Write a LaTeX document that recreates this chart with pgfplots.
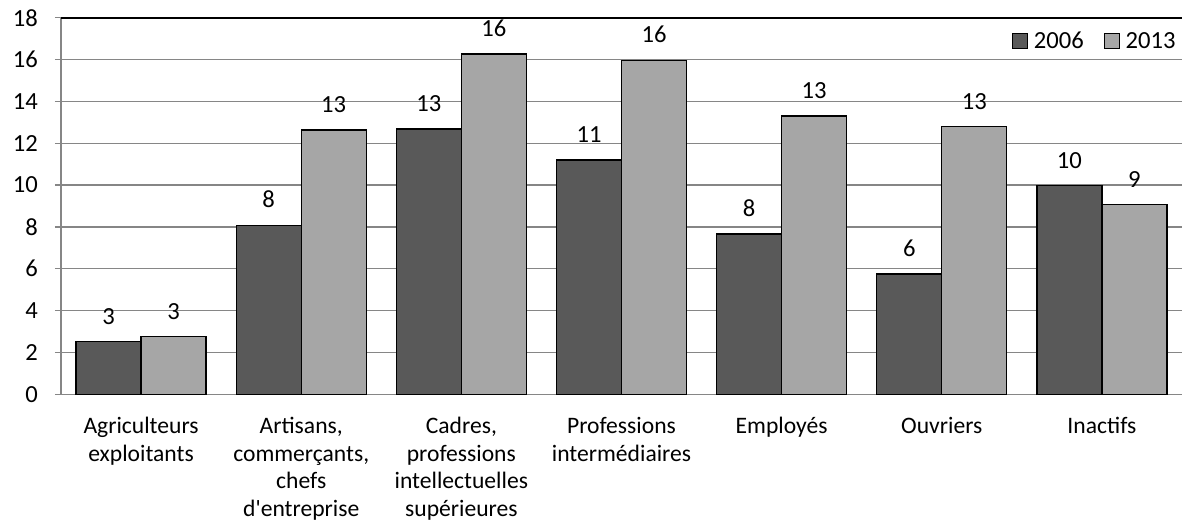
\documentclass[border=0pt]{standalone}
\usepackage{fontspec}
\setmainfont{Carlito}
\usepackage{pgfplots}
\pgfplotsset{compat=1.18}
\definecolor{darkbar}{HTML}{595959}
\definecolor{lightbar}{HTML}{A6A6A6}
\definecolor{axgray}{HTML}{868686}
\begin{document}
\begin{tikzpicture}
\useasboundingbox (-30.5pt,-65.85pt) rectangle (560.5pt,197.15pt);
\begin{axis}[
  scale only axis,
  width=560.5pt, height=188.3pt,
  xmin=-0.5, xmax=6.5,
  ymin=0, ymax=18,
  ybar=0pt, bar width=32.5pt,
  axis x line*=bottom, axis y line*=left,
  axis line style={axgray, line width=0.6pt},
  ytick={0,2,...,16},
  extra y ticks={18},
  extra y tick style={grid style={black, line width=1pt}},
  ymajorgrids,
  grid style={axgray, line width=0.6pt},
  major tick style={axgray, line width=0.6pt},
  tick align=outside,
  major tick length=3pt,
  xtick={0,...,6},
  xticklabels={{Agriculteurs\\exploitants},{Artisans,\\commerçants,\\chefs\\d\textquotesingle entreprise},{Cadres,\\professions\\intellectuelles\\supérieures},{Professions\\intermédiaires},{Employés},{Ouvriers},{Inactifs}},
  x tick style={draw=none},
  minor xtick={0.5,1.5,...,5.5},
  minor tick length=4pt,
  minor tick style={axgray, line width=0.6pt},
  x tick label style={align=center, font=\fontsize{11.8}{13.75}\selectfont, yshift=-5pt},
  y tick label style={font=\fontsize{12.3}{14}\selectfont, xshift=-5pt},
  /pgf/number format/assume math mode=true,
  nodes near coords,
  point meta=explicit symbolic,
  every node near coord/.append style={font=\fontsize{12.3}{14}\selectfont, black, yshift=5pt},
  legend columns=2,
  legend style={at={(1,1)}, anchor=north east, xshift=2pt, yshift=-3pt, draw=none, fill=none,
    font=\fontsize{12.3}{14}\selectfont, /tikz/every even column/.append style={column sep=8pt},
    /tikz/every odd column/.append style={column sep=1pt}},
  legend image code/.code={\draw[#1, draw=black, line width=0.5pt] (0pt,-3.5pt) rectangle (7.5pt,4pt);},
]
\addplot[fill=darkbar, draw=black, line width=0.6pt] coordinates {
  (0,2.51)[3] (1,8.08)[8] (2,12.68)[13] (3,11.2)[11] (4,7.66)[8] (5,5.75)[6] (6,9.97)[10]
};
\addplot[fill=lightbar, draw=black, line width=0.6pt] coordinates {
  (0,2.75)[3] (1,12.63)[13] (2,16.27)[16] (3,15.96)[16] (4,13.3)[13] (5,12.79)[13] (6,9.06)[9]
};
\legend{2006,2013}
\end{axis}
\end{tikzpicture}
\end{document}
